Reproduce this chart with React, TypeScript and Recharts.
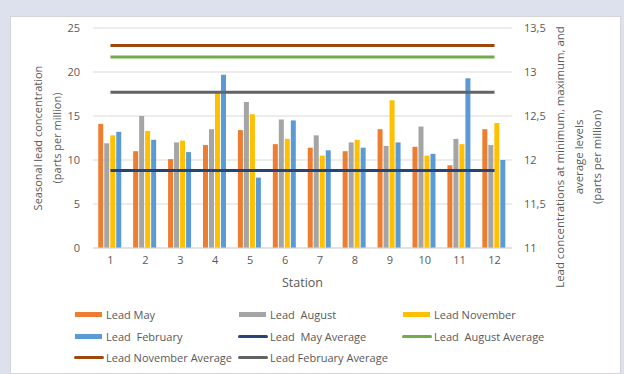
import React from "react";
import {
  Bar,
  CartesianGrid,
  ComposedChart,
  Line,
  XAxis,
  YAxis,
} from "recharts";

const STATIONS = ["1", "2", "3", "4", "5", "6", "7", "8", "9", "10", "11", "12"];

const LEAD_MAY = [14.1, 11.0, 10.1, 11.7, 13.4, 11.8, 11.4, 11.0, 13.5, 11.5, 9.4, 13.5];
const LEAD_AUGUST = [11.9, 15.0, 12.0, 13.5, 16.6, 14.6, 12.8, 12.0, 11.6, 13.8, 12.4, 11.7];
const LEAD_NOVEMBER = [12.8, 13.3, 12.2, 17.6, 15.2, 12.4, 10.5, 12.3, 16.8, 10.5, 11.8, 14.2];
const LEAD_FEBRUARY = [13.2, 12.3, 10.9, 19.7, 8.0, 14.5, 11.1, 11.4, 12.0, 10.7, 19.3, 10.0];

// averages are plotted against the right axis
const MAY_AVERAGE = 11.88;
const AUGUST_AVERAGE = 13.17;
const NOVEMBER_AVERAGE = 13.3;
const FEBRUARY_AVERAGE = 12.77;

const LEFT_TICKS = [0, 5, 10, 15, 20, 25];
const RIGHT_TICKS = [11, 11.5, 12, 12.5, 13, 13.5];

const FONT = '"Open Sans", "Liberation Sans", sans-serif';
const TEXT = "#595959";
const GRID = "#d9d9d9";

const COLORS = {
  may: "#ed7d31",
  aug: "#a5a5a5",
  nov: "#ffc000",
  feb: "#5b9bd5",
  mayAvg: "#264478",
  augAvg: "#70ad47",
  novAvg: "#9e480e",
  febAvg: "#636363",
};

const data = STATIONS.map((station, i) => ({
  station,
  may: LEAD_MAY[i],
  aug: LEAD_AUGUST[i],
  nov: LEAD_NOVEMBER[i],
  feb: LEAD_FEBRUARY[i],
  mayAvg: MAY_AVERAGE,
  augAvg: AUGUST_AVERAGE,
  novAvg: NOVEMBER_AVERAGE,
  febAvg: FEBRUARY_AVERAGE,
}));

// legend, in the order Excel lays it out (3 per row)
const LEGEND = [
  { label: "Lead May", color: COLORS.may, kind: "bar" },
  { label: "Lead  August", color: COLORS.aug, kind: "bar" },
  { label: "Lead November", color: COLORS.nov, kind: "bar" },
  { label: "Lead  February", color: COLORS.feb, kind: "bar" },
  { label: "Lead  May Average", color: COLORS.mayAvg, kind: "line" },
  { label: "Lead  August Average", color: COLORS.augAvg, kind: "line" },
  { label: "Lead November Average", color: COLORS.novAvg, kind: "line" },
  { label: "Lead February Average", color: COLORS.febAvg, kind: "line" },
];
const LEGEND_COLS = [74, 238, 402];
const LEGEND_ROWS = [314, 336, 357];

function AxisTitle({
  viewBox,
  lines,
  dx,
  dyCenter = 0,
  fontSize = 11,
}: {
  viewBox?: { x: number; y: number; width: number; height: number };
  lines: string[];
  dx: number;
  dyCenter?: number;
  fontSize?: number;
}) {
  if (!viewBox) return null;
  const x = viewBox.x + dx;
  const y = viewBox.y + viewBox.height / 2 + dyCenter;
  return (
    <text
      transform={`translate(${x},${y}) rotate(-90)`}
      textAnchor="middle"
      fill={TEXT}
      style={{ fontFamily: FONT, fontSize }}
    >
      {lines.map((l, i) => (
        <tspan key={i} x={0} dy={i === 0 ? 4 : 18.5} style={{ whiteSpace: "pre" }}>
          {l}
        </tspan>
      ))}
    </text>
  );
}

function ChartLegend() {
  return (
    <>
      {LEGEND.map((item, i) => {
        const left = LEGEND_COLS[i % 3];
        const top = LEGEND_ROWS[Math.floor(i / 3)];
        return (
          <div
            key={item.label}
            style={{
              position: "absolute",
              left,
              top: top - 8,
              height: 16,
              display: "flex",
              alignItems: "center",
              fontFamily: FONT,
              fontSize: 11,
              color: TEXT,
              whiteSpace: "pre",
            }}
          >
            {item.kind === "bar" ? (
              <span
                style={{
                  display: "inline-block",
                  width: 27,
                  height: 5,
                  marginLeft: 1,
                  marginRight: 4,
                  background: item.color,
                }}
              />
            ) : (
              <span
                style={{
                  display: "inline-block",
                  width: 30,
                  height: 3,
                  marginRight: 2,
                  borderRadius: 2,
                  background: item.color,
                }}
              />
            )}
            {item.label}
          </div>
        );
      })}
    </>
  );
}

export default function App() {
  return (
    <div
      style={{
        position: "absolute",
        left: 0,
        top: 0,
        width: 624,
        height: 374,
        background: "#dde1ee",
        overflow: "hidden",
      }}
    >
      <div
        style={{
          position: "absolute",
          left: 10,
          top: 16,
          width: 609,
          height: 356,
          background: "#ffffff",
          border: "1px solid #d4d4d4",
        }}
      />
      <div style={{ position: "absolute", left: 0, top: 0 }}>
        <ComposedChart
          width={624}
          height={374}
          data={data}
          margin={{ top: 28, right: 12, left: 10, bottom: 81 }}
          barCategoryGap="15%"
          barGap={1}
        >
          <CartesianGrid yAxisId="left" stroke={GRID} vertical={false} />
          <XAxis
            dataKey="station"
            height={45}
            tick={{ fontSize: 11, fill: TEXT, fontFamily: FONT }}
            tickLine={false}
            axisLine={{ stroke: GRID }}
            label={{
              value: "Station",
              position: "insideBottom",
              offset: 6,
              fill: TEXT,
              fontSize: 12.5,
              fontFamily: FONT,
            }}
          />
          <YAxis
            yAxisId="left"
            width={83}
            domain={[0, 25]}
            ticks={LEFT_TICKS}
            tick={{ fontSize: 11, fill: TEXT, fontFamily: FONT }}
            tickLine={false}
            axisLine={false}
            tickMargin={7}
            label={
              <AxisTitle
                lines={["Seasonal lead concentration", "(parts per million)"]}
                dx={28}
              />
            }
          />
          <YAxis
            yAxisId="right"
            orientation="right"
            width={100}
            domain={[11, 13.5]}
            ticks={RIGHT_TICKS}
            tickFormatter={(v: number) => String(v).replace(".", ",")}
            tick={{ fontSize: 11, fill: TEXT, fontFamily: FONT }}
            tickLine={false}
            axisLine={false}
            tickMargin={6}
            label={
              <AxisTitle
                lines={[
                  "Lead concentrations at minimum, maximum, and",
                  "average levels",
                  "(parts per million)",
                ]}
                dx={48}
                dyCenter={19}
                fontSize={11.4}
              />
            }
          />
          <Bar yAxisId="left" dataKey="may" fill={COLORS.may} isAnimationActive={false} />
          <Bar yAxisId="left" dataKey="aug" fill={COLORS.aug} isAnimationActive={false} />
          <Bar yAxisId="left" dataKey="nov" fill={COLORS.nov} isAnimationActive={false} />
          <Bar yAxisId="left" dataKey="feb" fill={COLORS.feb} isAnimationActive={false} />
          <Line
            yAxisId="right"
            dataKey="mayAvg"
            stroke={COLORS.mayAvg}
            strokeWidth={3}
            dot={false}
            activeDot={false}
            isAnimationActive={false}
          />
          <Line
            yAxisId="right"
            dataKey="augAvg"
            stroke={COLORS.augAvg}
            strokeWidth={3}
            dot={false}
            activeDot={false}
            isAnimationActive={false}
          />
          <Line
            yAxisId="right"
            dataKey="novAvg"
            stroke={COLORS.novAvg}
            strokeWidth={3}
            dot={false}
            activeDot={false}
            isAnimationActive={false}
          />
          <Line
            yAxisId="right"
            dataKey="febAvg"
            stroke={COLORS.febAvg}
            strokeWidth={3}
            dot={false}
            activeDot={false}
            isAnimationActive={false}
          />
        </ComposedChart>
        <ChartLegend />
      </div>
    </div>
  );
}
